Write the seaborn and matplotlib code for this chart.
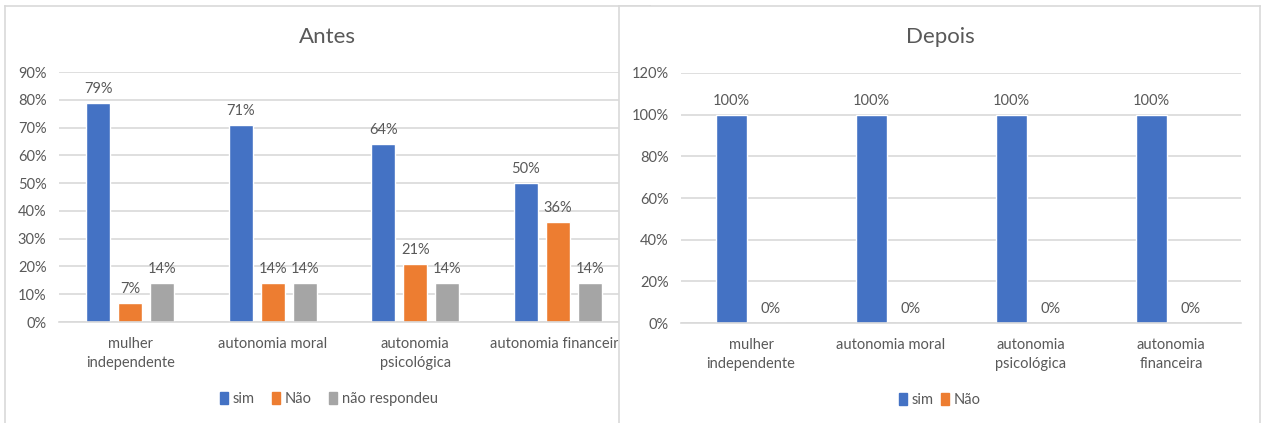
import matplotlib
matplotlib.use("Agg")
import matplotlib.pyplot as plt
import seaborn as sns
import pandas as pd
from matplotlib.patches import Patch

# ---------------- data ----------------
categorias_antes = ["mulher\nindependente", "autonomia moral",
                    "autonomia\npsicológica", "autonomia financeira"]
categorias_depois = ["mulher\nindependente", "autonomia moral",
                     "autonomia\npsicológica", "autonomia\nfinanceira"]
series_antes = ["sim", "Não", "não respondeu"]
series_depois = ["sim", "Não"]
antes_sim = [79, 71, 64, 50]
antes_nao = [7, 14, 21, 36]
antes_nr = [14, 14, 14, 14]
depois_sim = [100, 100, 100, 100]
depois_nao = [0, 0, 0, 0]
ticks_antes = [0, 10, 20, 30, 40, 50, 60, 70, 80, 90]
ticks_depois = [0, 20, 40, 60, 80, 100, 120]
title_antes = "Antes"
title_depois = "Depois"

BLUE, ORANGE, GRAY = "#4472C4", "#ED7D31", "#A5A5A5"
TXT = "#595959"
GRID = "#D9D9D9"

sns.set_theme(style="white")
plt.rcParams["font.family"] = ["Lato", "DejaVu Sans"]

df_antes = pd.DataFrame({
    "categoria": categorias_antes * 3,
    "resposta": [s for s in series_antes for _ in categorias_antes],
    "valor": antes_sim + antes_nao + antes_nr,
})
df_depois = pd.DataFrame({
    "categoria": categorias_depois * 2,
    "resposta": [s for s in series_depois for _ in categorias_depois],
    "valor": depois_sim + depois_nao,
})

W, H = 1268, 423
fig = plt.figure(figsize=(W / 100, H / 100), dpi=100)
fig.patch.set_facecolor("white")


def frame(x0, x1, z):
    a = fig.add_axes([x0 / W, 0, (x1 - x0) / W, (H - 6) / H])
    a.set_zorder(z)
    a.set_facecolor("white")
    a.set_xticks([]); a.set_yticks([])
    for s in ["top", "left", "right"]:
        a.spines[s].set_color(GRID)
        a.spines[s].set_linewidth(1.2)
    a.spines["bottom"].set_visible(False)
    return a


frame(5, 650, 0)
frame(619, 1260, 5)

FS = 10.5
TFS = 16


def style(ax, ticks):
    ax.set_facecolor("none")
    ax.set_yticks(ticks)
    ax.set_yticklabels([f"{t}%" for t in ticks], color=TXT, fontsize=FS)
    ax.set_ylim(0, ticks[-1])
    ax.set_xlim(-0.5, 3.5)
    ax.yaxis.grid(True, color=GRID, linewidth=1.2)
    ax.set_axisbelow(True)
    for s in ["top", "left", "right"]:
        ax.spines[s].set_visible(False)
    ax.spines["bottom"].set_color(GRID)
    ax.spines["bottom"].set_linewidth(1.2)
    ax.tick_params(axis="both", length=0, colors=TXT, labelsize=FS)
    ax.tick_params(axis="x", pad=11)
    ax.tick_params(axis="y", pad=9)
    ax.set_xlabel("")
    ax.set_ylabel("")
    for lab in ax.get_xticklabels():
        lab.set_color(TXT)
        lab.set_linespacing(1.4)


# ---------- Antes ----------
ax1 = fig.add_axes([59 / W, (H - 322) / H, 570 / W, 250 / H])
ax1.set_zorder(1)
sns.barplot(data=df_antes, x="categoria", y="valor", hue="resposta",
            order=categorias_antes, hue_order=series_antes,
            palette=[BLUE, ORANGE, GRAY], saturation=1,
            width=0.674, gap=0.25, errorbar=None, legend=False, ax=ax1)
style(ax1, ticks_antes)
for cont in ax1.containers:
    ax1.bar_label(cont, labels=[f"{b.get_height():.0f}%" for b in cont],
                  padding=5, color=TXT, fontsize=FS)
fig.text(327 / W, 1 - 37 / H, title_antes, ha="center", va="center",
         color=TXT, fontsize=TFS, zorder=1)
leg1 = fig.legend(handles=[Patch(color=c, label=l) for c, l in
                           zip([BLUE, ORANGE, GRAY], series_antes)],
                  loc="center", bbox_to_anchor=(329 / W, 1 - 399 / H),
                  ncol=3, frameon=False, fontsize=FS, handlelength=0.55,
                  handleheight=0.8, handletextpad=0.3, columnspacing=1.2,
                  labelcolor=TXT)
leg1.set_zorder(1)

# ---------- Depois ----------
ax2 = fig.add_axes([681 / W, (H - 323) / H, 560 / W, 250 / H])
ax2.set_zorder(6)
sns.barplot(data=df_depois, x="categoria", y="valor", hue="resposta",
            order=categorias_depois, hue_order=series_depois,
            palette=[BLUE, ORANGE], saturation=1,
            width=0.557, gap=0.21, errorbar=None, legend=False, ax=ax2)
style(ax2, ticks_depois)
for cont in ax2.containers:
    ax2.bar_label(cont, labels=[f"{b.get_height():.0f}%" for b in cont],
                  padding=5, color=TXT, fontsize=FS)
t2 = fig.text(940 / W, 1 - 37 / H, title_depois, ha="center", va="center",
              color=TXT, fontsize=TFS)
t2.set_zorder(7)
leg2 = fig.legend(handles=[Patch(color=c, label=l) for c, l in
                           zip([BLUE, ORANGE], series_depois)],
                  loc="center", bbox_to_anchor=(940 / W, 1 - 400 / H),
                  ncol=2, frameon=False, fontsize=FS, handlelength=0.55,
                  handleheight=0.8, handletextpad=0.3, columnspacing=0.5,
                  labelcolor=TXT)
leg2.set_zorder(7)

fig.savefig("out.png", dpi=100, facecolor="white")
